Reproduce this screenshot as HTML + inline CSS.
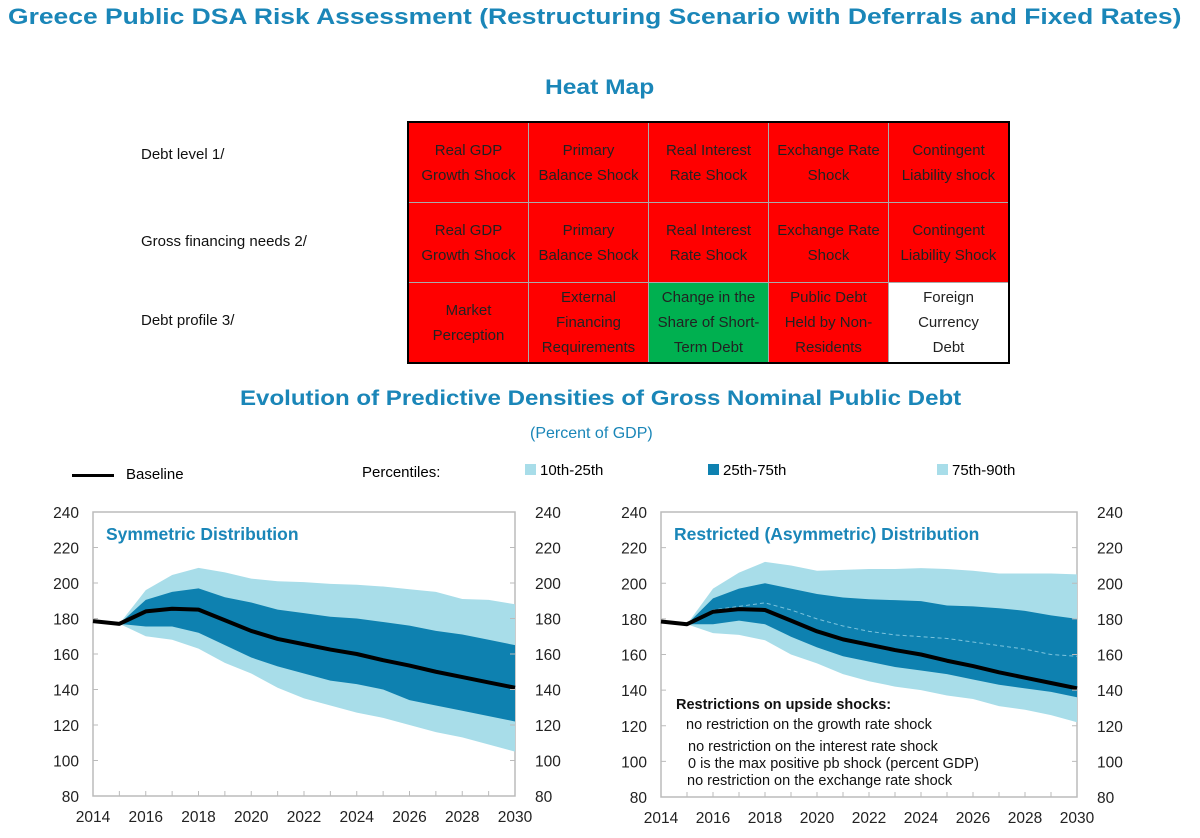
<!DOCTYPE html>
<html><head><meta charset="utf-8">
<style>
body{margin:0;width:1200px;height:838px;background:#fff;font-family:"Liberation Sans",sans-serif;position:relative;overflow:hidden}
.t{position:absolute;white-space:nowrap}
.title{color:#1a86b8;font-weight:bold;transform-origin:0 0}
table{position:absolute;left:407px;top:121px;border-collapse:collapse;border:2px solid #000}
td{width:119px;height:79px;padding:0;text-align:center;font-size:15px;line-height:25px;color:#222;border:1.5px solid #aaa;background:#ff0000}
td.g{background:#00b050}td.w{background:#fff}
.rl{position:absolute;font-size:15px;color:#111}
</style></head><body>
<div class="t title" style="left:8px;top:4px;font-size:22.5px;transform:scaleX(1.175)">Greece Public DSA Risk Assessment (Restructuring Scenario with Deferrals and Fixed Rates)</div>
<div class="t title" style="left:545px;top:76px;font-size:21px;transform:scaleX(1.17)">Heat Map</div>
<div class="rl" style="left:141px;top:146px">Debt level 1/</div>
<div class="rl" style="left:141px;top:233px">Gross financing needs 2/</div>
<div class="rl" style="left:141px;top:312px">Debt profile 3/</div>
<table>
<tr><td>Real GDP<br>Growth Shock</td><td>Primary<br>Balance Shock</td><td>Real Interest<br>Rate Shock</td><td>Exchange Rate<br>Shock</td><td>Contingent<br>Liability shock</td></tr>
<tr><td>Real GDP<br>Growth Shock</td><td>Primary<br>Balance Shock</td><td>Real Interest<br>Rate Shock</td><td>Exchange Rate<br>Shock</td><td>Contingent<br>Liability Shock</td></tr>
<tr><td>Market<br>Perception</td><td>External<br>Financing<br>Requirements</td><td class="g">Change in the<br>Share of Short-<br>Term Debt</td><td>Public Debt<br>Held by Non-<br>Residents</td><td class="w">Foreign<br>Currency<br>Debt</td></tr>
</table>
<div class="t title" style="left:240px;top:386px;font-size:21.5px;transform:scaleX(1.12)">Evolution of Predictive Densities of Gross Nominal Public Debt</div>
<div class="t" style="left:530px;top:425px;font-size:16px;color:#1a86b8">(Percent of GDP)</div>
<div>
<div class="t" style="left:72px;top:466px;font-size:15px"><span style="display:inline-block;width:42px;height:3px;background:#000;vertical-align:middle;margin-right:12px"></span>Baseline</div>
<div class="t" style="left:362px;top:464px;font-size:15px">Percentiles:</div>
<div class="t" style="left:525px;top:462px;font-size:15px"><span style="display:inline-block;width:11px;height:11px;background:#a8dde9;margin-right:4px"></span>10th-25th</div>
<div class="t" style="left:708px;top:462px;font-size:15px"><span style="display:inline-block;width:11px;height:11px;background:#0e81b0;margin-right:4px"></span>25th-75th</div>
<div class="t" style="left:937px;top:462px;font-size:15px"><span style="display:inline-block;width:11px;height:11px;background:#a8dde9;margin-right:4px"></span>75th-90th</div>
</div>
<svg id="s" width="1200" height="838" style="position:absolute;left:0;top:0"></svg>
<script>
const years=[2014,2015,2016,2017,2018,2019,2020,2021,2022,2023,2024,2025,2026,2027,2028,2029,2030];
const yTicks=[80,100,120,140,160,180,200,220,240];
const xTicks=[2014,2016,2018,2020,2022,2024,2026,2028,2030];
const baseline=[178.5,177,184,185.5,185,179,173,168.5,165.5,162.5,160,156.5,153.5,150,147,144,141];
const symP10=[null,177,170,168,163,155,149,141,135,131,127,124,120,116,113,109,105];
const symP25=[null,177,175.5,175.5,172,165,158,153,149,145,143,140,134,131,128,125,122];
const symP75=[null,177,190.5,195,197,192,189,185,183,181,180,178,176,173,171,168,165];
const symP90=[null,177,196,204.5,208.5,206,202.5,201,200.5,199.5,199,198,196.5,195,191,190.5,188];
const asyP10=[null,177,172,171,168,160,155,149,145,142,140,137,135,131,129,126,122];
const asyP25=[null,177,177,179,177,170,164,159,156,153,151,149,146,143,141,139,136];
const asyP75=[null,177,191.5,197,200,197,194,192,191,190.5,190,187.5,187,186,184.5,182,180];
const asyP90=[null,177,197,206,212,210,207,207.5,208,208,208.5,208,207,205.5,205.5,205.5,205];
const asyMed=[null,177,185,187,189,185,180,176,173,171,170,169,167,165,163,160,159];
const svg=document.getElementById('s');const NS='http://www.w3.org/2000/svg';
function mk(t,a,p){const e=document.createElementNS(NS,t);for(const k in a)e.setAttribute(k,a[k]);(p||svg).appendChild(e);return e;}
function chart(x0,x1,y0,y1,name,title,bands,median,note){
  const g=mk('g',{});
  
  
  const X=v=>x0+(v-2014)/16*(x1-x0), Y=v=>y1-(v-80)/160*(y1-y0);
  mk('rect',{x:x0,y:y0,width:x1-x0,height:y1-y0,fill:'none',stroke:'#bbb','stroke-width':1.5},g);
  const band=(lo,hi,col,nm)=>{let pts=[];for(let i=1;i<years.length;i++)pts.push(X(years[i])+','+Y(hi[i]));for(let i=years.length-1;i>=1;i--)pts.push(X(years[i])+','+Y(lo[i]));const p=mk('polygon',{points:pts.join(' '),fill:col},g);};
  band(bands[0],bands[3],'#a8dde9','band-10-90');
  band(bands[1],bands[2],'#0e81b0','band-25-75');
  if(median){const m=mk('polyline',{points:years.slice(1).map((y,i)=>X(y)+','+Y(median[i+1])).join(' '),fill:'none',stroke:'#7cc3dd','stroke-width':1,'stroke-dasharray':'4 3'},g);}
  const l=mk('polyline',{points:years.map((y,i)=>X(y)+','+Y(baseline[i])).join(' '),fill:'none',stroke:'#000','stroke-width':4,'stroke-linejoin':'round'},g);
  
  
  years.forEach(y=>{mk('line',{x1:X(y),x2:X(y),y1:y1,y2:y1-5,stroke:'#bbb'},g);});
  yTicks.forEach(v=>{
    mk('line',{x1:x0,x2:x0+5,y1:Y(v),y2:Y(v),stroke:'#bbb'},g);mk('line',{x1:x1,x2:x1-5,y1:Y(v),y2:Y(v),stroke:'#bbb'},g);
    const a=mk('text',{x:x0-14,y:Y(v)+6,'text-anchor':'end','font-size':15.5,fill:'#222'},g);a.textContent=v;
    
    const b=mk('text',{x:x1+20,y:Y(v)+6,'font-size':15.5,fill:'#222'},g);b.textContent=v;
    
  });
  xTicks.forEach(v=>{const t=mk('text',{x:X(v),y:y1+26,'text-anchor':'middle','font-size':15.5,fill:'#222'},g);t.textContent=v;
    });
  const tt=mk('text',{x:x0+13,y:y0+28,'font-size':17.5,'font-weight':'bold',fill:'#1a86b8'},g);tt.textContent=title;
  
  if(note){note.forEach((s,i)=>{const t=mk('text',{x:x0+(i==0?15:[0,25,27,27,26][i]),y:y0+[0,197,217,239,256,273][i+1],'font-size':14.5,'font-weight':i==0?'bold':'normal',fill:'#111'},g);t.textContent=s;
    });}
}
chart(93,515,512,796,'symmetric-chart','Symmetric Distribution',[symP10,symP25,symP75,symP90],null,null);
chart(661,1077,512,797,'asymmetric-chart','Restricted (Asymmetric) Distribution',[asyP10,asyP25,asyP75,asyP90],asyMed,
 ['Restrictions on upside shocks:','no restriction on the growth rate shock','no restriction on the interest rate shock','0 is the max positive pb shock (percent GDP)','no restriction on the exchange rate shock']);
</script>
</body></html>
